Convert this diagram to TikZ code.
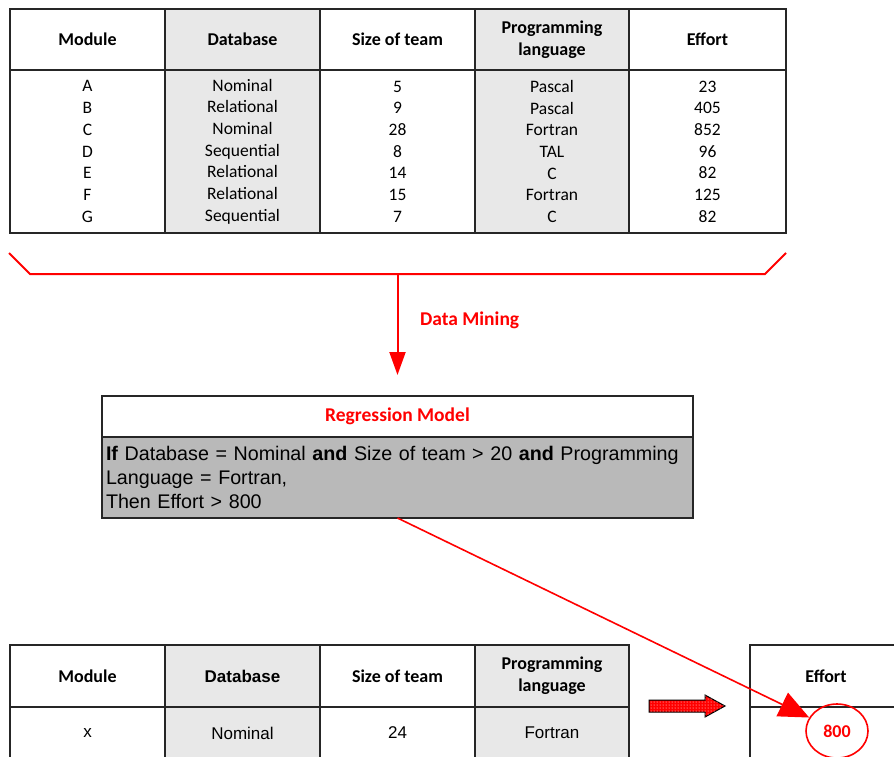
\documentclass[tikz,border=0pt]{standalone}
\usepackage{fontspec}
\setmainfont{Carlito}
\newfontfamily\arialfont{Liberation Sans}
\usepackage{tikz}
\usetikzlibrary{positioning}
\usetikzlibrary{calc}
\usetikzlibrary{arrows.meta}
\usetikzlibrary{patterns}
\usetikzlibrary{shapes.geometric}

\begin{document}
\begin{tikzpicture}[
        x=1pt, y=-1pt,
        node distance=0pt,
        cell/.style={draw=black!85, line width=1.6pt, outer sep=0pt, inner sep=0pt,
                    align=center, minimum width=155pt, minimum height=61pt,
                    font=\fontsize{18}{21.7}\selectfont\bfseries},
        cellG/.style={cell, fill=gray!18},
        body/.style={cell, minimum height=163pt,
                    font=\fontsize{17.5}{21.7}\selectfont},
        bodyG/.style={body, fill=gray!18},
        redtxt/.style={text=red, font=\fontsize{19.5}{22}\selectfont\bfseries},
        redline/.style={draw=red, line width=2pt},
        blockarrow/.style={draw=black, line width=1pt, fill=red,
                    postaction={pattern=dots, pattern color=white}}
    ]
    \useasboundingbox (0,0) rectangle (894,756);

    % ------- Training data (top table) -------
    \node[cell, anchor=north west] (h1) at (10,9) {Module};
    \node[cellG, right=of h1] (h2) {Database};
    \node[cell, right=of h2] (h3) {Size of team};
    \node[cellG, right=of h3, minimum width=154pt] (h4) {Programming\\language};
    \node[cell, right=of h4, minimum width=157pt] (h5) {Effort};

    \node[body, below=of h1] (b1) {A\\B\\C\\D\\E\\F\\G};
    \node[bodyG, below=of h2] (b2) {Nominal\\Relational\\Nominal\\Sequential\\Relational\\Relational\\Sequential};
    \node[body, below=of h3] (b3) {5\\9\\28\\8\\14\\15\\7};
    \node[bodyG, below=of h4, minimum width=154pt] (b4) {Pascal\\Pascal\\Fortran\\TAL\\C\\Fortran\\C};
    \node[body, below=of h5, minimum width=157pt] (b5) {23\\405\\852\\96\\82\\125\\82};

    % brace under the table
    \coordinate (bl) at (9,253);
    \coordinate (bll) at (30,274);
    \coordinate (brr) at (765,274);
    \coordinate (br) at (786,253);
    \coordinate (bm) at (397.5,274);
    \draw[redline] (bl) -- (bll) -- (brr) -- (br);

    % ------- Regression model -------
    \node[draw=black!85, line width=1.6pt, outer sep=0pt, minimum width=591pt,
          minimum height=41pt, anchor=north west, redtxt] (rt) at (102,396)
        {Regression Model};
    \node[draw=black!85, line width=1.6pt, outer sep=0pt, below=of rt,
          fill=gray!55, inner sep=4pt, text width=583pt, align=left,
          minimum height=81pt, font=\arialfont\fontsize{19.7}{24}\selectfont] (rb)
        {\textbf{If} Database = Nominal \textbf{and} Size of team > 20 \textbf{and} Programming\\
         Language = Fortran,\\
         Then Effort > 800};

    \draw[redline, -{Triangle[length=23pt,width=16pt]}, shorten >=21pt] (bm) -- (rt.north);
    \node[redtxt, anchor=west] (dm) at ($(bm)!0.377!(rt.north)+(19,0)$) {Data Mining};

    % ------- New project (bottom table) -------
    \node[cell, anchor=north west, minimum height=62pt] (q1) at (10,645) {Module};
    \node[cellG, right=of q1, minimum height=62pt, font=\arialfont\fontsize{17}{21}\selectfont\bfseries] (q2) {Database};
    \node[cell, right=of q2, minimum height=62pt] (q3) {Size of team};
    \node[cellG, right=of q3, minimum width=154pt, minimum height=62pt] (q4) {Programming\\language};

    \node[cell, below=of q1, minimum height=52pt, font=\arialfont\fontsize{17}{21}\selectfont] (v1) {x};
    \node[cellG, below=of q2, minimum height=52pt, font=\arialfont\fontsize{17}{21}\selectfont] (v2) {Nominal};
    \node[cell, below=of q3, minimum height=52pt, font=\arialfont\fontsize{17}{21}\selectfont] (v3) {24};
    \node[cellG, below=of q4, minimum width=154pt, minimum height=52pt, font=\arialfont\fontsize{17}{21}\selectfont] (v4) {Fortran};

    % ------- Estimated effort -------
    \node[cell, anchor=north west, minimum width=152pt, minimum height=62pt] (e1) at (750,645) {Effort};
    \node[cell, below=of e1, minimum width=152pt, minimum height=52pt] (e2) {};
    \node[ellipse, draw=red, line width=1.6pt, minimum width=62pt, minimum height=54pt,
          text=red, font=\fontsize{18}{20}\selectfont\bfseries] (est) at (837,731) {800};

    \filldraw[blockarrow] (649,700) -- (705,700) -- (705,695) -- (725,706)
        -- (705,717) -- (705,712) -- (649,712) -- cycle;

    \draw[redline, line width=1.6pt, -{Triangle[length=30pt,width=26pt]}] (rb.south) -- (est);

\end{tikzpicture}
\end{document}
